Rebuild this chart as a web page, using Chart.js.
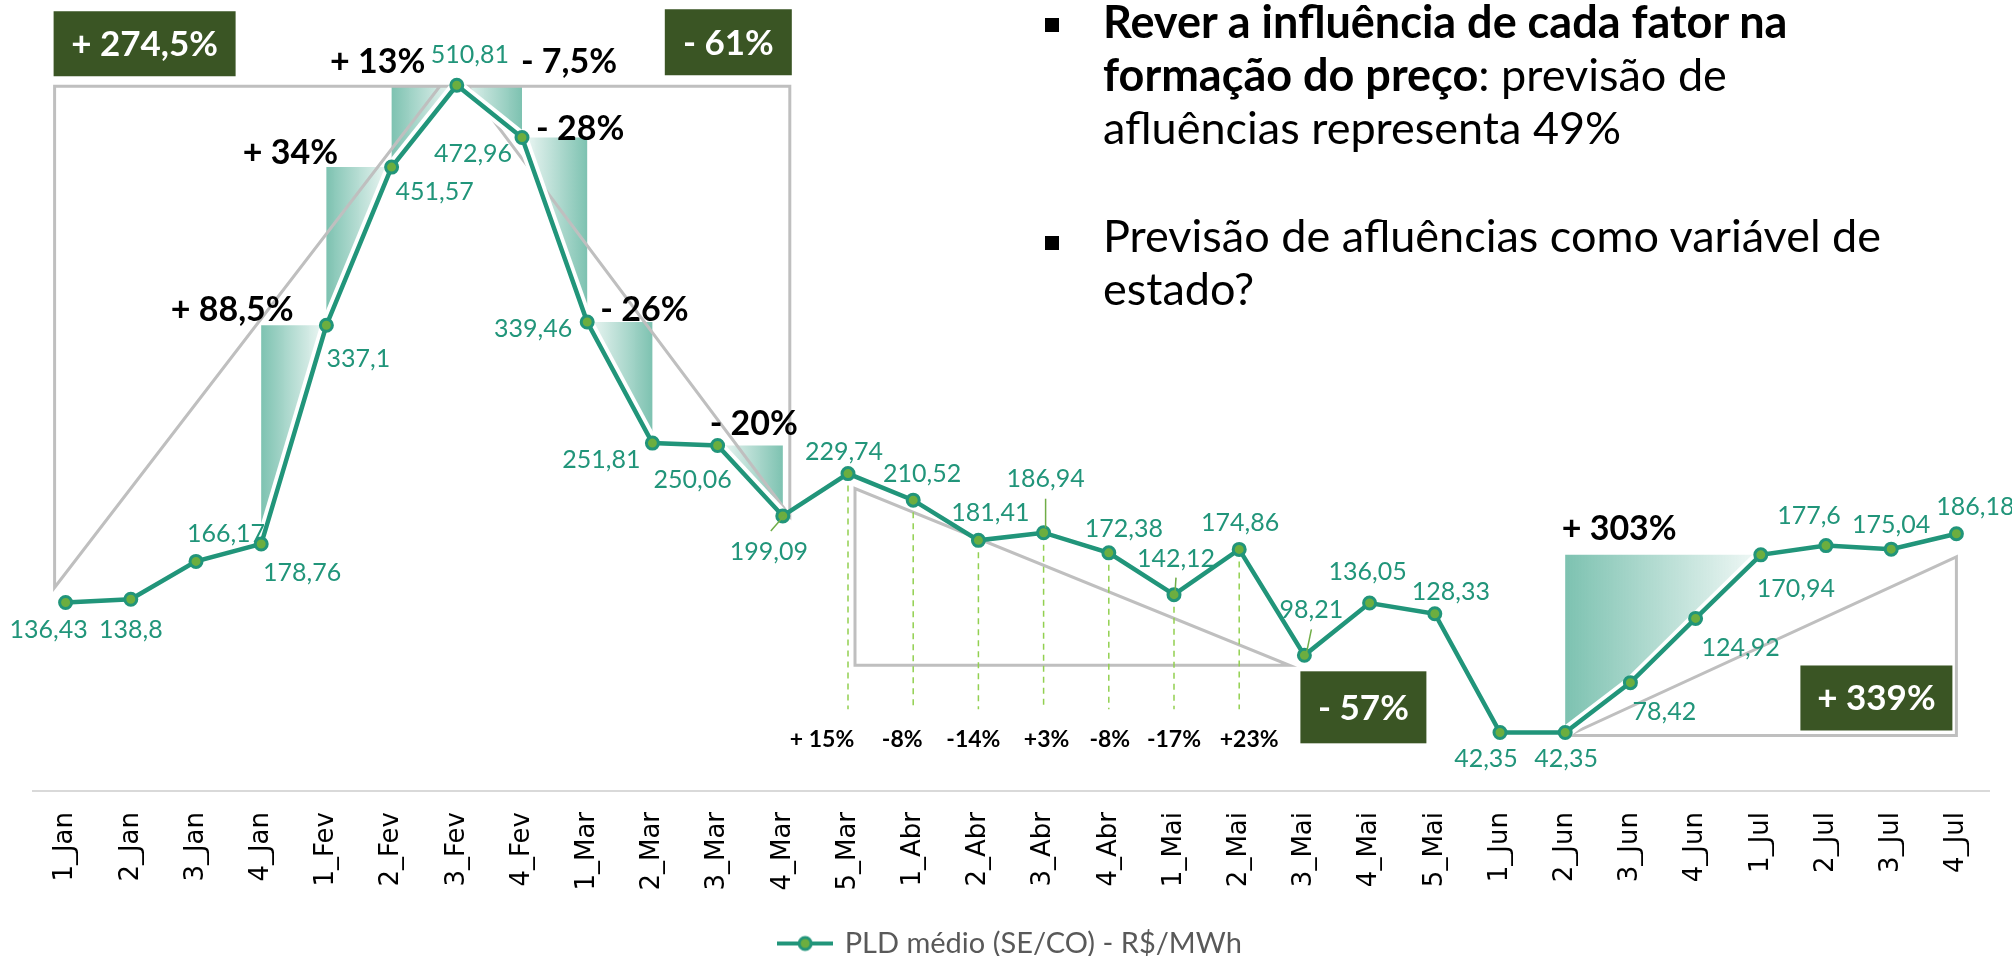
<!DOCTYPE html>
<html>
<head>
<meta charset="utf-8">
<script src="https://cdn.jsdelivr.net/npm/chart.js@4.4.0/dist/chart.umd.min.js"></script>
<style>
  html, body { margin: 0; padding: 0; background: #fff; overflow: hidden; }
  #wrap { position: relative; width: 2012px; height: 956px; overflow: hidden; }
  #pldChart { position: absolute; left: 0; top: 0; }
  .notes { position: absolute; left: 1103px; font-family: Lato, 'Noto Sans', sans-serif; font-size: 45px; line-height: 53px; color: #000; white-space: nowrap; }
  .bullet { position: absolute; left: 1045px; width: 14px; height: 14px; background: #000; }
</style>
</head>
<body>
<div id="wrap">
  <canvas id="pldChart" width="2012" height="968"></canvas>
  <div class="bullet" style="top:18px"></div>
  <div class="notes" style="top:-5px"><b>Rever a influência de cada fator na<br>formação do preço</b>: previsão de<br>afluências representa 49%</div>
  <div class="bullet" style="top:236px"></div>
  <div class="notes" style="top:209px">Previsão de afluências como variável de<br>estado?</div>
</div>
<script>
// weeks and PLD values (R$/MWh)
const weeks = ['1_Jan', '2_Jan', '3_Jan', '4_Jan', '1_Fev', '2_Fev', '3_Fev', '4_Fev',
  '1_Mar', '2_Mar', '3_Mar', '4_Mar', '5_Mar', '1_Abr', '2_Abr', '3_Abr', '4_Abr',
  '1_Mai', '2_Mai', '3_Mai', '4_Mai', '5_Mai', '1_Jun', '2_Jun', '3_Jun', '4_Jun',
  '1_Jul', '2_Jul', '3_Jul', '4_Jul'];
const pld = [136.43, 138.8, 166.17, 178.76, 337.1, 451.57, 510.81, 472.96,
  339.46, 251.81, 250.06, 199.09, 229.74, 210.52, 181.41, 186.94, 172.38,
  142.12, 174.86, 98.21, 136.05, 128.33, 42.35, 42.35, 78.42, 124.92,
  170.94, 177.6, 175.04, 186.18];

// step changes shown next to the shaded wedges
const stepFrom = [3, 4, 5, 6, 7, 8, 10, 23];
const stepTo = [4, 5, 6, 7, 8, 9, 11, 26];
const stepText = ['+ 88,5%', '+ 34%', '+ 13%', '- 7,5%', '- 28%', '- 26%', '- 20%', '+ 303%'];

// weekly changes under the dashed lines (5_Mar .. 2_Mai)
const weeklyIdx = [12, 13, 14, 15, 16, 17, 18];
const weeklyText = ['+ 15%', '-8%', '-14%', '+3%', '-8%', '-17%', '+23%'];

// period totals in the dark boxes
const totalText = ['+ 274,5%', '- 61%', '- 57%', '+ 339%'];

// ---- styling only below ----
const TEAL = '#21957A';
const GREEN = '#6CAE3F';
const BOXGREEN = '#3A5524';
const GRAY = '#BFBFBF';

// where each value label sits relative to its point
const labelOffsets = [[-17, 27], [0, 31], [30, -27], [41, 29], [32, 34], [43, 25], [13, -30], [-49, 16],
  [-54, 7], [-51, 17], [-25, 34], [-14, 36], [-4, -22], [9, -26], [12, -27], [2, -54], [15, -24],
  [2, -36], [1, -26], [7, -45], [-2, -31], [16, -22], [-14, 26], [1, 26], [34, 29], [45, 30],
  [35, 34], [-17, -30], [0, -24], [19, -27]];
// leader lines: index, from (dx,dy) to (dx,dy)
const leaders = [[11, -12, 15, 1, 0], [15, 2, -34, 2, -5], [17, 2, -17, 1, -2], [19, 7, -26, 2, -2]];
const stepLabelOffsets = [[-29, -15], [-36, -14], [-14, -23], [47, -23], [-7, -9], [-8, -12], [-29, -21], [54, -26]];
const weeklyDx = [-26, -11, -5, 3, 1, 0, 10];

// gray outline triangles: vertices as [xIndex, dx, yIndex, dy]
const outlines = [
  [[0, -11, 0, -15], [0, -11, 6, 1], [6, 0, 6, 1], [6, -17, 6, 1]],
  [[6, 0, 6, 1], [11, 7, 6, 1], [11, 7, 11, 0], [6, 11, 6, 1]],
  [[12, 7, 12, 15], [12, 7, 19, 10], [19, -15, 19, 10]],
  [[23, 3, 23, 3], [29, 0, 23, 3], [29, 0, 29, 23]]
];
// dark boxes: [xIndex, dx, yIndex, dy, w, h]
const boxes = [[0, -12, 6, -74, 182, 65], [11, -118, 6, -76, 127, 66], [19, -4, 19, 16, 126, 72], [29, -156, 23, -67, 152, 65]];

const legendIcon = document.createElement('canvas');
legendIcon.width = 56; legendIcon.height = 22;
(function () {
  const c = legendIcon.getContext('2d');
  c.strokeStyle = TEAL; c.lineWidth = 4;
  c.beginPath(); c.moveTo(0, 11); c.lineTo(56, 11); c.stroke();
  c.beginPath(); c.arc(28, 11, 6, 0, Math.PI * 2);
  c.fillStyle = GREEN; c.fill(); c.lineWidth = 3; c.stroke();
})();

const annotations = {
  id: 'annotations',
  beforeDatasetsDraw(chart) {
    const ctx = chart.ctx;
    const meta = chart.getDatasetMeta(0);
    const px = i => meta.data[i].x;
    const py = i => meta.data[i].y;
    ctx.save();

    // shaded wedges
    stepFrom.forEach((from, k) => {
      const to = stepTo[k];
      const rising = pld[to] > pld[from];
      const cx = rising ? px(from) : px(to);
      const cy = rising ? py(to) : py(from);
      const farX = rising ? px(to) : px(from);
      const g = ctx.createLinearGradient(cx, 0, farX, 0);
      g.addColorStop(0, 'rgba(31,150,120,0.58)');
      g.addColorStop(1, 'rgba(31,150,120,0.06)');
      ctx.beginPath();
      for (let i = from; i <= to; i++) {
        if (i === from) ctx.moveTo(px(i), py(i)); else ctx.lineTo(px(i), py(i));
      }
      ctx.lineTo(cx, cy);
      ctx.closePath();
      ctx.fillStyle = g;
      ctx.fill();
    });

    // gray outlines
    ctx.strokeStyle = GRAY;
    ctx.lineWidth = 3;
    ctx.lineJoin = 'miter';
    outlines.forEach(tri => {
      ctx.beginPath();
      tri.forEach((v, i) => {
        const x = px(v[0]) + v[1], y = py(v[2]) + v[3];
        if (i === 0) ctx.moveTo(x, y); else ctx.lineTo(x, y);
      });
      ctx.closePath();
      ctx.stroke();
    });

    // white gap between wedges and the line
    ctx.strokeStyle = '#fff';
    ctx.lineWidth = 12;
    ctx.lineJoin = 'round';
    stepFrom.forEach((from, k) => {
      ctx.beginPath();
      for (let i = from; i <= stepTo[k]; i++) {
        if (i === from) ctx.moveTo(px(i), py(i)); else ctx.lineTo(px(i), py(i));
      }
      ctx.stroke();
    });

    // dashed drop lines
    ctx.strokeStyle = '#92D050';
    ctx.lineWidth = 1.5;
    ctx.setLineDash([6, 5]);
    const dropEnd = py(19) + 54;
    weeklyIdx.forEach(i => {
      ctx.beginPath();
      ctx.moveTo(px(i), py(i) + 12);
      ctx.lineTo(px(i), dropEnd);
      ctx.stroke();
    });
    ctx.setLineDash([]);
    ctx.restore();
  },
  afterDatasetsDraw(chart) {
    const ctx = chart.ctx;
    const meta = chart.getDatasetMeta(0);
    const px = i => meta.data[i].x;
    const py = i => meta.data[i].y;
    ctx.save();

    // leader lines
    ctx.strokeStyle = '#70AD47';
    ctx.lineWidth = 1.5;
    leaders.forEach(l => {
      ctx.beginPath();
      ctx.moveTo(px(l[0]) + l[1], py(l[0]) + l[2]);
      ctx.lineTo(px(l[0]) + l[3], py(l[0]) + l[4]);
      ctx.stroke();
    });

    // value labels
    ctx.textAlign = 'center';
    ctx.textBaseline = 'middle';
    ctx.font = '25px Lato, "Noto Sans", sans-serif';
    ctx.fillStyle = TEAL;
    pld.forEach((v, i) => {
      const txt = String(v).replace('.', ',');
      ctx.fillText(txt, px(i) + labelOffsets[i][0], py(i) + labelOffsets[i][1]);
    });

    // step change labels
    ctx.font = 'bold 34px Lato, "Noto Sans", sans-serif';
    ctx.fillStyle = '#000';
    stepFrom.forEach((from, k) => {
      const to = stepTo[k];
      const rising = pld[to] > pld[from];
      const cx = rising ? px(from) : px(to);
      const cy = rising ? py(to) : py(from);
      ctx.fillText(stepText[k], cx + stepLabelOffsets[k][0], cy + stepLabelOffsets[k][1]);
    });

    // weekly change labels
    ctx.font = 'bold 23px Lato, "Noto Sans", sans-serif';
    const weeklyY = py(19) + 84;
    weeklyIdx.forEach((i, k) => {
      ctx.fillText(weeklyText[k], px(i) + weeklyDx[k], weeklyY);
    });

    // dark boxes with totals
    ctx.font = 'bold 35px Lato, "Noto Sans", sans-serif';
    boxes.forEach((b, k) => {
      const x = px(b[0]) + b[1], y = py(b[2]) + b[3];
      ctx.fillStyle = BOXGREEN;
      ctx.fillRect(x, y, b[4], b[5]);
      ctx.fillStyle = '#fff';
      ctx.fillText(totalText[k], x + b[4] / 2, y + b[5] / 2 + 1);
    });
    ctx.restore();
  }
};

const ctxEl = document.getElementById('pldChart');
new Chart(ctxEl, {
  type: 'line',
  data: {
    labels: weeks,
    datasets: [{
      label: 'PLD médio (SE/CO) - R$/MWh',
      data: pld,
      borderColor: TEAL,
      borderWidth: 4.5,
      pointRadius: 6,
      pointBorderWidth: 3,
      pointBackgroundColor: GREEN,
      pointBorderColor: TEAL,
      tension: 0
    }]
  },
  options: {
    responsive: false,
    animation: false,
    devicePixelRatio: 1,
    layout: { padding: { left: 33, right: 23, top: 0, bottom: 0 } },
    scales: {
      x: {
        offset: true,
        grid: { display: false, drawTicks: false },
        border: { color: '#D9D9D9', width: 2 },
        ticks: {
          minRotation: 90,
          maxRotation: 90,
          padding: 21,
          color: '#000',
          font: { family: '"DejaVu Sans"', size: 26 }
        },
        afterFit(scale) { scale.height = 138; }
      },
      y: {
        display: false,
        min: 0,
        max: 566
      }
    },
    plugins: {
      legend: {
        position: 'bottom',
        labels: {
          usePointStyle: true,
          pointStyle: legendIcon,
          pointStyleWidth: 50,
          boxHeight: 22,
          padding: 0,
          color: '#595959',
          font: { family: 'Lato, "Noto Sans", sans-serif', size: 29 }
        }
      },
      tooltip: { enabled: false }
    }
  },
  plugins: [annotations]
});
</script>
</body>
</html>
